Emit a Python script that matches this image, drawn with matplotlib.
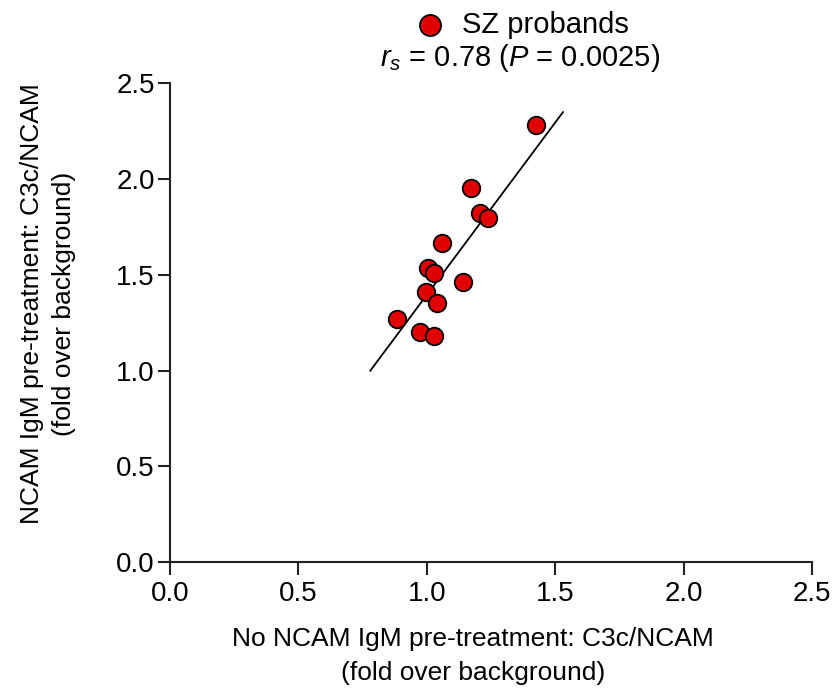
import matplotlib
matplotlib.use("Agg")
from matplotlib import pyplot
import numpy

pyplot.rcParams['font.family'] = ['Liberation Sans', 'DejaVu Sans']
pyplot.rcParams['mathtext.fontset'] = 'custom'
pyplot.rcParams['mathtext.rm'] = 'Liberation Sans'
pyplot.rcParams['mathtext.it'] = 'Liberation Sans:italic'

# C3c/NCAM fold over background, SZ probands
no_pretreat = [1.424, 1.171, 1.207, 1.237, 1.060, 1.006, 1.029,
               1.142, 0.997, 1.039, 0.883, 0.974, 1.029]
pretreat = [2.282, 1.951, 1.821, 1.795, 1.668, 1.534, 1.511,
            1.461, 1.412, 1.351, 1.267, 1.203, 1.180]

# regression line
fit_slope = 1.80
fit_intercept = -0.405
fit_x = [0.78, 1.53]

rs_text = r'$r_s$ = 0.78 ($P$ = 0.0025)'

fig = pyplot.figure(figsize=(8.35, 6.88), dpi=100)
ax = fig.add_axes([0.2036, 0.1831, 0.9725 - 0.2036, 0.879 - 0.1831])

fx = numpy.array(fit_x)
ax.plot(fx, fit_slope * fx + fit_intercept, color='black', linewidth=1.3, zorder=2)
ax.scatter(no_pretreat, pretreat, s=160, c='#e00000', edgecolors='black',
           linewidths=1.3, zorder=3, label='SZ probands')

ax.set_xlim(0, 2.5)
ax.set_ylim(0, 2.5)
ax.set_xticks(numpy.arange(0, 2.51, 0.5))
ax.set_yticks(numpy.arange(0, 2.51, 0.5))
ax.xaxis.set_major_formatter('{x:.1f}')
ax.yaxis.set_major_formatter('{x:.1f}')

for side in ['top', 'right']:
    ax.spines[side].set_visible(False)
for side in ['left', 'bottom']:
    ax.spines[side].set_linewidth(1.5)
    ax.spines[side].set_color('#222222')
ax.tick_params(direction='out', length=9, width=1.5, color='#222222',
               labelsize=20)
ax.tick_params(axis='x', pad=5)
ax.tick_params(axis='y', pad=2)

# подписи осей
ax.set_xlabel('No NCAM IgM pre-treatment: C3c/NCAM\n(fold over background)',
              fontsize=19, linespacing=1.5, va='center')
ax.xaxis.set_label_coords(0.472, -0.196)
ax.set_ylabel('NCAM IgM pre-treatment: C3c/NCAM\n(fold over background)',
              fontsize=19, linespacing=1.4, va='center')
ax.yaxis.set_label_coords(-0.19, 0.54)

# легенда и коэффициент корреляции над графиком
ax.legend(loc='center', bbox_to_anchor=(515 / 835, 1 - 25 / 688),
          bbox_transform=fig.transFigure, frameon=False, fontsize=21,
          handletextpad=0.1, borderpad=0, borderaxespad=0, markerscale=1.2)
fig.text(520 / 835, 1 - 58 / 688, rs_text, ha='center', va='center', fontsize=21)

fig.savefig('out.png')
